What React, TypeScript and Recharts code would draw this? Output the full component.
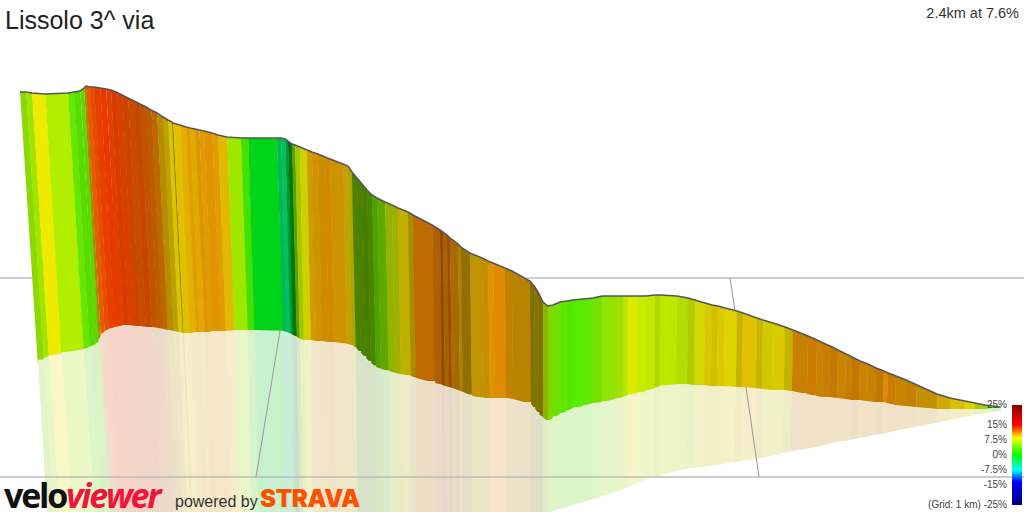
import { ComposedChart, Area, Line, XAxis, YAxis, ReferenceArea } from "recharts";

// band boundaries along the ridge of the wall (last entry closes the last band)
const topX = [20,26,32,45,68,74,80,84,86,90,94,100,106,111,116,122,128,134,140,146,151,157,163,168,172,173,180,186,190,195,199,204,212,218,227,241,248,277,281,285,288,292,295,300,307,312,318,325,330,343,348,352,357,362,367,372,377,385,392,398,408,413,432,440,443,447,450,453,458,461,470,482,488,493,505,512,530,534,538,543,548,553,560,567,573,583,593,602,615,623,628,637,646,655,660,677,688,695,705,712,718,725,737,743,757,763,773,785,793,808,817,823,830,838,846,852,860,868,876,884,888,896,906,917,937,950,965,975,985,993,1000];
const topY = [92,92,93,94,93,92,91,88,86,87,87,88,89,90,92,95,98,101,104,107,110,113,117,120,122,123,125,127,128,129,130,131,133,135,137,138,138,138,138,139,141,144,145,147,150,152,154,157,159,164,166,172,178,184,190,195,198,202,205,208,212,215,225,230,232,235,238,240,244,247,253,258,261,263,268,271,281,286,292,302,306,305,302,301,300,299,298,296,296,296,296,296,296,295,295,296,298,300,303,305,306,308,311,313,318,320,323,327,330,336,340,343,346,350,354,357,361,364,368,371,373,376,380,385,394,398,401,403,405,406,407];
const baseX = [38,44,49,62,84,90,96,99,101,105,109,115,120,124,129,135,140,146,152,158,163,168,174,179,183,184,190,196,200,205,209,213,221,226,235,248,255,283,287,291,293,297,300,304,311,316,322,329,334,347,352,356,361,366,371,376,381,389,395,401,411,416,435,442,445,449,452,455,460,463,472,484,490,495,506,513,531,535,539,543,548,553,560,567,573,583,593,602,615,623,628,637,646,655,660,676,687,694,704,711,717,724,736,742,756,762,772,784,792,807,816,822,829,837,845,851,859,867,875,883,887,895,905,916,937,950,965,975,985,993,1000];
const baseY = [360,358,356,353,349,347,344,341,335,331,329,327,326,325,325,326,326,327,327,328,329,330,331,332,333,333,333,332,332,332,332,331,331,331,330,330,330,331,332,334,335,337,339,340,340,341,341,342,342,344,345,348,353,358,363,367,369,371,373,374,376,378,383,385,386,387,388,389,391,392,396,398,398,398,398,399,404,409,414,418,421,418,414,411,408,406,403,402,399,397,395,393,391,388,386,384,384,385,385,386,386,386,387,387,388,389,390,390,391,394,396,397,397,398,399,400,400,401,402,402,403,405,406,407,409,409,409,409,409,408,408];
const lowX = [48,54,60,74,96,102,108,111,114,118,122,128,133,137,141,147,152,157,163,168,173,178,183,188,192,193,198,204,208,212,216,220,227,232,240,252,259,286,290,294,296,300,303,307,313,318,324,331,336,349,354,358,362,367,372,377,382,390,396,402,412,417,436,443,446,450,453,456,460,463,472,484,490,495,506,513,531,535,539,543,548,553,560,567,573,583,593,602,615,623,628,637,645,654,659,675,686,693,703,710,716,723,735,741,755,761,771,783,791,806,815,821,828,836,844,850,858,866,874,882,886,894,904,915,936,949,964,975,985,993,1000];
const lowY = [520,520,520,520,520,520,520,520,520,520,520,520,520,520,520,520,520,520,520,520,520,520,520,520,520,520,520,520,520,520,520,520,520,520,520,520,520,520,520,520,520,520,520,520,520,520,520,520,520,520,520,520,520,520,520,520,520,520,520,520,520,520,520,520,520,520,520,520,520,520,520,520,520,520,520,520,520,520,520,520,513,511,509,507,505,502,499,496,492,489,487,483,480,477,476,471,469,468,467,466,465,464,462,461,459,458,456,453,451,449,447,446,444,442,441,440,438,437,435,434,433,431,429,427,423,420,417,415,413,412,411];
const bandColors = ["#8cd800","#a0e400","#eeea00","#b2ee00","#66e600","#58dc00","#60d800","#a09000","#e06000","#e84c00","#e64000","#e83a00","#e04000","#d63c00","#d84000","#cc4400","#c84c00","#c44800","#c25400","#bc5c00","#bc6800","#b88c00","#bca000","#d8c400","#8a8400","#e0c000","#e4b000","#e09c00","#e4a800","#dc9400","#e09c00","#e09400","#e09c00","#e4b800","#9ee800","#44e000","#00d418","#00b850","#00c060","#009c30","#007810","#60a000","#a0c800","#d0d000","#cc9c00","#d09400","#cc8c00","#d08800","#cc9400","#c4a000","#a8a800","#508000","#4c8000","#468000","#4a8400","#50a000","#60a800","#90b400","#a0b000","#c0b000","#a88c00","#bc6c00","#b06000","#8c4c00","#a86000","#985000","#b06800","#a06c00","#b08000","#907000","#c09400","#c88c00","#dc9400","#e08c00","#c08000","#b88400","#807000","#847400","#7c7000","#90b000","#80d800","#70e000","#60e800","#54e400","#58ec00","#60e800","#78e000","#90e400","#a0e000","#b8e400","#e0e800","#c8ec00","#c4e800","#b0d800","#bce800","#b4dc00","#b0cc00","#d0d800","#d8c800","#d0c000","#dcc800","#e0d400","#c8b400","#e0c000","#c8b400","#d0c800","#d8cc00","#c4b400","#c88000","#cc7c00","#c88400","#c88000","#c47a00","#cc8400","#c88000","#c07800","#cc8400","#c88000","#c07800","#dc8c00","#cc7c00","#c88400","#c48000","#c49000","#d0a800","#d8c000","#e0d000","#b0c800","#80e000","#40c800"];

// grid of the 3d floor
const gridTopLeft = [{ x: 0, y: 278 }, { x: 33, y: 278 }];
const gridTopRight = [{ x: 527, y: 278 }, { x: 1024, y: 278 }];
const gridBottom = [{ x: 0, y: 477 }, { x: 1024, y: 477 }];
const gridDiagA = [{ x: 280, y: 331 }, { x: 256, y: 477 }];
const gridDiagB = [{ x: 730, y: 278 }, { x: 735, y: 311 }];
const gridDiagC = [{ x: 746, y: 387 }, { x: 759, y: 477 }];

const scaleLabels = ["25%", "15%", "7.5%", "0%", "-7.5%", "-15%", "(Grid: 1 km) -25%"];
const scaleLabelY = [405, 425, 440, 455, 470, 485, 505];
const scaleStops = [
  [0, "#8c0000"], [20, "#ff0000"], [33, "#ffff00"], [50, "#00ff00"],
  [65, "#00ffff"], [77, "#0000ff"], [100, "#000080"],
];

const pale = (hex: string) => {
  const mix = (s: number) => Math.round(s * 0.2 + 250 * 0.8);
  const v = parseInt(hex.slice(1), 16);
  return `rgb(${mix(v >> 16)},${mix((v >> 8) & 255)},${mix(v & 255)})`;
};

// first index where the floor's lower edge comes into the picture
const floorVisibleFrom = lowY.findIndex((y) => y < 520);

const ridge = topX.map((x, i) => ({ x, y: topY[i], range: [0, topY[i]] }));
const floorEdge = baseX.map((x, i) => ({
  x,
  range: [baseY[i], x < lowX[0] ? baseY[i] : lowY[i]],
}));
const belowFloor = lowX.slice(floorVisibleFrom).map((x, i) => ({ x, range: [lowY[floorVisibleFrom + i], 530] }));

const base = { isAnimationActive: false, dot: false, activeDot: false, legendType: "none" as const };
const font = "'Liberation Sans', Arial, sans-serif";

export default function App() {
  return (
    <div style={{ position: "absolute", left: 0, top: 0, width: 1024, height: 512, overflow: "hidden", background: "#fff", fontFamily: font }}>
      <ComposedChart width={1024} height={512} margin={{ top: 0, right: 0, bottom: 0, left: 0 }}>
        <defs>
          <linearGradient id="scale" x1="0" y1="0" x2="0" y2="1">
            {scaleStops.map(([o, c]) => (
              <stop key={o} offset={`${o}%`} stopColor={c as string} />
            ))}
          </linearGradient>
        </defs>
        <XAxis type="number" dataKey="x" domain={[0, 1024]} hide allowDataOverflow />
        <YAxis type="number" domain={[0, 512]} reversed hide allowDataOverflow />

        {bandColors.map((c, i) => (
          <Line
            key={`wall${i}`}
            {...base}
            zIndex={10}
            data={[
              { x: (topX[i] + topX[i + 1]) / 2, y: Math.min(topY[i], topY[i + 1]) - 3 },
              { x: (baseX[i] + baseX[i + 1]) / 2, y: Math.max(baseY[i], baseY[i + 1]) + 3 },
            ]}
            dataKey="y"
            stroke={c}
            strokeWidth={(topX[i + 1] - topX[i] + baseX[i + 1] - baseX[i]) / 2 + 0.4}
          />
        ))}

        <Area {...base} zIndex={20} data={floorEdge} dataKey="range" stroke="none" fill="#efe8d4" fillOpacity={1} />

        {bandColors.map((c, i) => (
          <Line
            key={`floor${i}`}
            {...base}
            zIndex={30}
            data={[
              { x: (baseX[i] + baseX[i + 1]) / 2, y: (baseY[i] + baseY[i + 1]) / 2 + 0.5 },
              { x: (lowX[i] + lowX[i + 1]) / 2, y: Math.max(lowY[i], lowY[i + 1]) + 3 },
            ]}
            dataKey="y"
            stroke={pale(c)}
            strokeWidth={(baseX[i + 1] - baseX[i] + lowX[i + 1] - lowX[i]) / 2 + 0.4}
          />
        ))}

        <Area {...base} zIndex={40} data={ridge} dataKey="range" stroke="none" fill="#fff" fillOpacity={1} />
        <Area {...base} zIndex={40} data={belowFloor} dataKey="range" stroke="none" fill="#fff" fillOpacity={1} />

        {[gridTopLeft, gridTopRight, gridBottom].map((g, i) => (
          <Line key={`h${i}`} {...base} zIndex={50} data={g} dataKey="y" stroke="#bbbbbb" strokeWidth={1.5} />
        ))}
        {[gridDiagA, gridDiagB, gridDiagC].map((g, i) => (
          <Line key={`d${i}`} {...base} zIndex={50} data={g} dataKey="y" stroke="#999999" strokeWidth={1} />
        ))}

        <Line {...base} zIndex={60} data={ridge} dataKey="y" stroke="#555555" strokeWidth={1.5} />

        <ReferenceArea x1={1012} x2={1022} y1={405} y2={505} fill="url(#scale)" fillOpacity={1} stroke="none" ifOverflow="visible" zIndex={60} />
      </ComposedChart>

      <div style={{ position: "absolute", left: 5, top: 6, fontSize: 25, color: "#222", lineHeight: "28px" }}>Lissolo 3^ via</div>
      <div style={{ position: "absolute", right: 5, top: 4, fontSize: 14.5, color: "#333", lineHeight: "18px" }}>2.4km at 7.6%</div>

      {scaleLabels.map((t, i) => (
        <div key={t} style={{ position: "absolute", right: 17, top: scaleLabelY[i] - 6, fontSize: 10, lineHeight: "12px", color: "#444", whiteSpace: "nowrap" }}>{t}</div>
      ))}

      <div style={{ position: "absolute", left: 4, top: 479, fontSize: 34, lineHeight: "32px", fontWeight: 700, letterSpacing: -2.2, fontFamily: "'Open Sans', Inter, sans-serif", whiteSpace: "nowrap" }}>
        <span style={{ color: "#111" }}>velo</span>
        <span style={{ color: "#f0143c", fontStyle: "italic" }}>viewer</span>
      </div>
      <div style={{ position: "absolute", left: 175, top: 492, fontSize: 16, lineHeight: "20px", color: "#333", whiteSpace: "nowrap" }}>powered by</div>
      <div style={{ position: "absolute", left: 260, top: 488, fontSize: 24, lineHeight: "22px", fontWeight: 900, color: "#fc5200", letterSpacing: -0.3, fontFamily: "Inter, sans-serif", whiteSpace: "nowrap" }}>STRAVA</div>
    </div>
  );
}
